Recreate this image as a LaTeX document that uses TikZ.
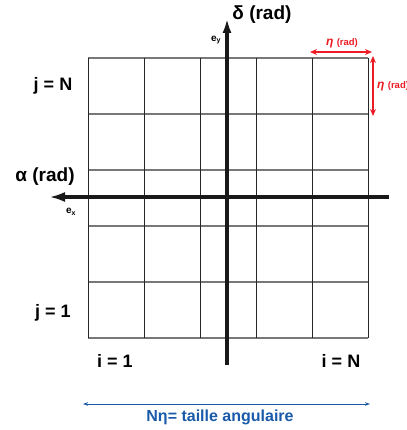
\documentclass[tikz,border=0pt]{standalone}
\usepackage{fontspec}
\setmainfont{Liberation Sans}
\usetikzlibrary{arrows.meta}
\definecolor{redc}{RGB}{237,28,36}
\definecolor{bluec}{RGB}{25,90,170}
\definecolor{gridgray}{RGB}{120,120,120}
\begin{document}
\begin{tikzpicture}[x=1pt,y=-1pt,
  vline/.style={line width=1pt,black!85},
  hline/.style={line width=1.2pt,gridgray},
  axis/.style={line width=3.8pt,black!90},
  redarrow/.style={line width=1.5pt,redc,{Stealth[length=7pt,width=6pt]}-{Stealth[length=7pt,width=6pt]}},
  bluearrow/.style={line width=1pt,bluec,{Stealth[length=5pt,width=3.5pt]}-{Stealth[length=5pt,width=3.5pt]}},
  biglbl/.style={font=\bfseries\fontsize{19}{19}\selectfont,inner sep=0pt,anchor=base},
  lbl/.style={font=\bfseries\fontsize{18}{18}\selectfont,inner sep=0pt,anchor=base},
  small/.style={font=\bfseries\fontsize{10}{10}\selectfont,inner sep=0pt},
  redlbl/.style={font=\bfseries\fontsize{12}{12}\selectfont,text=redc,inner sep=0pt,anchor=base},
  bluelbl/.style={font=\bfseries\fontsize{16}{16}\selectfont,text=bluec,inner sep=0pt,anchor=base}]
\clip (0,0) rectangle (406,430);
% grid
\foreach \y in {58,114,170,226,282,338} \draw[hline] (88,\y) -- (368,\y);
\foreach \x in {88,144,200,256,312,368} \draw[vline] (\x,58) -- (\x,338);
% axes
\coordinate (xr) at (389,197);
\coordinate (xl) at (49,197);
\coordinate (yb) at (227,365);
\coordinate (yt) at (227,18);
\draw[axis,-{Latex[length=16pt,width=10pt]}] (xr) -- (xl);
\draw[axis,-{Latex[length=15pt,width=9pt]}] (yb) -- (yt);
% red arrows
\coordinate (rh1) at (310,52);
\coordinate (rh2) at (372,52);
\coordinate (rv1) at (373,56);
\coordinate (rv2) at (373,116);
\draw[redarrow] (rh1) -- (rh2);
\draw[redarrow] (rv1) -- (rv2);
\node[redlbl] (eta1) at (342,46) {\textit{η} {\fontsize{9.5}{9.5}\selectfont(rad)}};
\node[redlbl,anchor=base west] (eta2) at (377,89) {\textit{η} {\fontsize{9.5}{9.5}\selectfont(rad)}};
% blue arrow
\coordinate (b1) at (83,404);
\coordinate (b2) at (370,404);
\draw[bluearrow] (b1) -- (b2);
\node[bluelbl] (taille) at (220,421) {Nη= taille angulaire};
% labels
\node[biglbl] (delta) at (262,20) {δ (rad)};
\node[biglbl] (alpha) at (45,182) {α (rad)};
\node[small] (ey) at (216,40) {e\textsubscript{y}};
\node[small] (ex) at (71,212) {e\textsubscript{x}};
\node[lbl] (jN) at (53,91) {j = N};
\node[lbl] (j1) at (53,317) {j = 1};
\node[lbl] (i1) at (115,367) {i = 1};
\node[lbl] (iN) at (341,367) {i = N};
\end{tikzpicture}
\end{document}
